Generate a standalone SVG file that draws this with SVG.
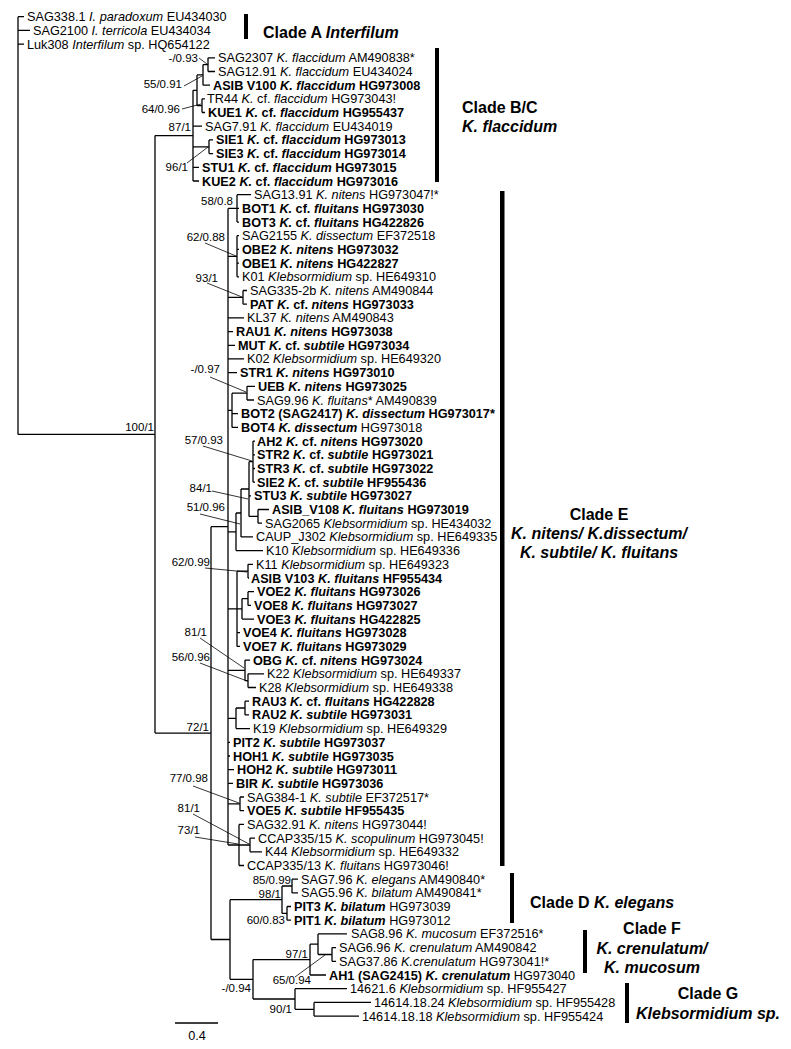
<svg xmlns="http://www.w3.org/2000/svg" width="791" height="1049" viewBox="0 0 791 1049">
<style>
text { font-family: "Liberation Sans", Arial, Helvetica, sans-serif; fill: #000; }
.t { font-size: 12.7px; }
.b { font-weight: bold; }
.i { font-style: italic; }
.sv { font-size: 11.5px; text-anchor: end; }
.cl { font-size: 16px; font-weight: bold; }
.mid { text-anchor: middle; }
.br { stroke: #000; stroke-width: 1.3; fill: none; }
.pt { stroke: #000; stroke-width: 0.8; fill: none; }
.bar { fill: #000; }
</style>
<rect width="791" height="1049" fill="#fff"/>
<g id="connectors">
<path class="br" d="M18 16.7V434.4M18 16.7H24M18 30.4H30M18 44.1H24M18 434.4H155
M155 135.6V733.1M155 135.6H193M155 733.1H211
M193 90.3V181M193 90.3H197M197 74.9V105.7M197 74.9H203M203 64.6V85.2M203 64.6H208M208 57.8V71.5M208 57.8H215M208 71.5H215M203 85.2H210M197 105.7H202M202 98.8V112.5M202 98.8H205M202 112.5H205M193 126.2H202M193 146.8H209M209 139.9V153.6M209 139.9H213M209 153.6H213M193 167.3H199M193 181H199
M211 526.7V939.5M211 526.7H228M211 939.5H230
M228 208.4V845
M228 208.4H237M237 194.7V222.1M237 194.7H251M237 208.4H239M237 222.1H239
M228 256.3H237M237 235.7V276.8M237 235.7H239M237 249.4H239M237 263.1H239M237 276.8H239
M228 297.4H243M243 290.5V304.2M243 290.5H247M243 304.2H247
M228 317.9H244M228 331.6H233M228 345.3H235M228 358.9H244M228 372.6H237
M228 410.3H232M232 393.2V427.4M232 393.2H247M247 386.3V400M247 386.3H255M247 400H254M232 413.7H238M232 427.4H238
M228 531.8H236M236 513V550.6M236 550.6H263M236 513H241M241 489V536.9M241 536.9H253M241 489H249M249 461.7V516.4M249 461.7H253M253 441.1V482.2M253 441.1H255M253 454.8H255M253 468.5H255M253 482.2H255M249 495.8H251M249 516.4H258M258 509.5V523.2M258 509.5H269M258 523.2H262
M228 608.8H237M237 571.2V646.4M237 571.2H248M248 564.3V578M248 564.3H253M248 578H249M237 608.8H242M242 598.6V619.1M242 598.6H248M248 591.7V605.4M248 591.7H254M248 605.4H251M242 619.1H254M237 632.7H240M237 646.4H240
M228 670.4H245M245 660.1V680.7M245 660.1H250M245 680.7H248M248 673.8V687.5M248 673.8H264M248 687.5H256
M228 718.3H236M236 708V728.6M236 708H245M245 701.2V714.9M245 701.2H249M245 714.9H249M236 728.6H250
M228 742.3H230M228 756H230M228 769.6H234M228 783.3H233
M228 803.9H240M240 797V810.7M240 797H244M240 810.7H244
M228 845H239M239 824.4V865.5M239 824.4H244M239 865.5H244M239 845H250M250 838.1V851.8M250 838.1H255M250 851.8H262
M230 899.7V979.3M230 899.7H282M282 886V913.4M282 886H292M292 879.2V892.9M292 879.2H298M292 892.9H298M282 913.4H287M287 906.5V920.2M287 906.5H291M287 920.2H291
M230 979.3H253M253 959.6V999M253 959.6H310M310 944.2V975M310 944.2H318M318 933.9V954.5M318 933.9H347M318 954.5H332M332 947.6V961.3M332 947.6H336M332 961.3H336M310 975H326
M253 999H295M295 988.7V1009.3M295 988.7H347M295 1009.3H314M314 1002.4V1016.1M314 1002.4H371M314 1016.1H359"/>
<path class="pt" d="M199 58L207 64M184 86L202 76M182 109L201 104M187 163L208 147M205 243L236 256M207 283L242 297M210 377L246 392M203 446L252 461M212 491L248 499M200 514L240 524M205 568L247 572M200 638L244 668M200 663L247 681M193 786L239 803M193 814L249 844M195 837L238 844M295 977L325 955"/>
<path class="br" d="M175 1023H218"/>
</g>
<g id="support">
<text class="sv" x="198" y="62">-/0.93</text>
<text class="sv" x="182" y="88">55/0.91</text>
<text class="sv" x="180" y="113">64/0.96</text>
<text class="sv" x="191" y="131">87/1</text>
<text class="sv" x="188" y="171">96/1</text>
<text class="sv" x="233" y="205">58/0.8</text>
<text class="sv" x="225" y="241">62/0.88</text>
<text class="sv" x="218" y="282">93/1</text>
<text class="sv" x="220" y="373">-/0.97</text>
<text class="sv" x="154" y="431">100/1</text>
<text class="sv" x="223" y="444">57/0.93</text>
<text class="sv" x="212" y="492">84/1</text>
<text class="sv" x="225" y="511">51/0.96</text>
<text class="sv" x="210" y="566">62/0.99</text>
<text class="sv" x="207" y="636">81/1</text>
<text class="sv" x="210" y="661">56/0.96</text>
<text class="sv" x="209" y="731">72/1</text>
<text class="sv" x="208" y="782">77/0.98</text>
<text class="sv" x="200" y="812">81/1</text>
<text class="sv" x="200" y="834">73/1</text>
<text class="sv" x="291" y="884">85/0.99</text>
<text class="sv" x="281" y="898">98/1</text>
<text class="sv" x="285" y="924">60/0.83</text>
<text class="sv" x="308" y="958">97/1</text>
<text class="sv" x="311" y="984">65/0.94</text>
<text class="sv" x="251" y="992">-/0.94</text>
<text class="sv" x="292" y="1013">90/1</text>
<text class="t mid" x="197" y="1040">0.4</text>
</g>
<g id="n1"><text class="t" x="27" y="21.2">SAG338.1 <tspan class="i">I. paradoxum</tspan> EU434030</text></g>
<g id="n2"><text class="t" x="33" y="34.9">SAG2100 <tspan class="i">I. terricola</tspan> EU434034</text></g>
<g id="n3"><text class="t" x="27" y="48.6">Luk308 <tspan class="i">Interfilum</tspan> sp. HQ654122</text></g>
<g id="n4"><text class="t" x="218" y="62.3">SAG2307 <tspan class="i">K. flaccidum</tspan> AM490838*</text></g>
<g id="n5"><text class="t" x="218" y="76">SAG12.91 <tspan class="i">K. flaccidum</tspan> EU434024</text></g>
<g id="n6"><text class="t b" x="213" y="89.7">ASIB V100 <tspan class="i">K. flaccidum</tspan> HG973008</text></g>
<g id="n7"><text class="t" x="207" y="103.3">TR44 <tspan class="i">K.</tspan> cf. <tspan class="i">flaccidum</tspan> HG973043!</text></g>
<g id="n8"><text class="t b" x="208" y="117">KUE1 <tspan class="i">K.</tspan> cf. <tspan class="i">flaccidum</tspan> HG955437</text></g>
<g id="n9"><text class="t" x="205" y="130.7">SAG7.91 <tspan class="i">K. flaccidum</tspan> EU434019</text></g>
<g id="n10"><text class="t b" x="216" y="144.4">SIE1 <tspan class="i">K.</tspan> cf. <tspan class="i">flaccidum</tspan> HG973013</text></g>
<g id="n11"><text class="t b" x="216" y="158.1">SIE3 <tspan class="i">K.</tspan> cf. <tspan class="i">flaccidum</tspan> HG973014</text></g>
<g id="n12"><text class="t b" x="202" y="171.8">STU1 <tspan class="i">K.</tspan> cf. <tspan class="i">flaccidum</tspan> HG973015</text></g>
<g id="n13"><text class="t b" x="202" y="185.5">KUE2 <tspan class="i">K.</tspan> cf. <tspan class="i">flaccidum</tspan> HG973016</text></g>
<g id="n14"><text class="t" x="254" y="199.2">SAG13.91 <tspan class="i">K. nitens</tspan> HG973047!*</text></g>
<g id="n15"><text class="t b" x="242" y="212.9">BOT1 <tspan class="i">K.</tspan> cf. <tspan class="i">fluitans</tspan> HG973030</text></g>
<g id="n16"><text class="t b" x="242" y="226.6">BOT3 <tspan class="i">K.</tspan> cf. <tspan class="i">fluitans</tspan> HG422826</text></g>
<g id="n17"><text class="t" x="242" y="240.2">SAG2155 <tspan class="i">K. dissectum</tspan> EF372518</text></g>
<g id="n18"><text class="t b" x="242" y="253.9">OBE2 <tspan class="i">K. nitens</tspan> HG973032</text></g>
<g id="n19"><text class="t b" x="242" y="267.6">OBE1 <tspan class="i">K. nitens</tspan> HG422827</text></g>
<g id="n20"><text class="t" x="242" y="281.3">K01 <tspan class="i">Klebsormidium</tspan> sp. HE649310</text></g>
<g id="n21"><text class="t" x="250" y="295">SAG335-2b <tspan class="i">K. nitens</tspan> AM490844</text></g>
<g id="n22"><text class="t b" x="250" y="308.7">PAT <tspan class="i">K.</tspan> cf. <tspan class="i">nitens</tspan> HG973033</text></g>
<g id="n23"><text class="t" x="247" y="322.4">KL37 <tspan class="i">K. nitens</tspan> AM490843</text></g>
<g id="n24"><text class="t b" x="236" y="336.1">RAU1 <tspan class="i">K. nitens</tspan> HG973038</text></g>
<g id="n25"><text class="t b" x="238" y="349.8">MUT <tspan class="i">K.</tspan> cf. <tspan class="i">subtile</tspan> HG973034</text></g>
<g id="n26"><text class="t" x="247" y="363.4">K02 <tspan class="i">Klebsormidium</tspan> sp. HE649320</text></g>
<g id="n27"><text class="t b" x="240" y="377.1">STR1 <tspan class="i">K. nitens</tspan> HG973010</text></g>
<g id="n28"><text class="t b" x="258" y="390.8">UEB <tspan class="i">K. nitens</tspan> HG973025</text></g>
<g id="n29"><text class="t" x="257" y="404.5">SAG9.96 <tspan class="i">K. fluitans</tspan>* AM490839</text></g>
<g id="n30"><text class="t b" x="241" y="418.2">BOT2 (SAG2417) <tspan class="i">K. dissectum</tspan> HG973017*</text></g>
<g id="n31"><text class="t" x="241" y="431.9"><tspan class="b">BOT4 <tspan class="i">K. dissectum</tspan></tspan> HG973018</text></g>
<g id="n32"><text class="t b" x="257" y="445.6">AH2 <tspan class="i">K.</tspan> cf. <tspan class="i">nitens</tspan> HG973020</text></g>
<g id="n33"><text class="t b" x="257" y="459.3">STR2 <tspan class="i">K.</tspan> cf. <tspan class="i">subtile</tspan> HG973021</text></g>
<g id="n34"><text class="t b" x="257" y="473">STR3 <tspan class="i">K.</tspan> cf. <tspan class="i">subtile</tspan> HG973022</text></g>
<g id="n35"><text class="t b" x="257" y="486.7">SIE2 <tspan class="i">K.</tspan> cf. <tspan class="i">subtile</tspan> HF955436</text></g>
<g id="n36"><text class="t b" x="254" y="500.3">STU3 <tspan class="i">K. subtile</tspan> HG973027</text></g>
<g id="n37"><text class="t b" x="272" y="514">ASIB_V108 <tspan class="i">K. fluitans</tspan> HG973019</text></g>
<g id="n38"><text class="t" x="265" y="527.7">SAG2065 <tspan class="i">Klebsormidium</tspan> sp. HE434032</text></g>
<g id="n39"><text class="t" x="256" y="541.4">CAUP_J302 <tspan class="i">Klebsormidium</tspan> sp. HE649335</text></g>
<g id="n40"><text class="t" x="266" y="555.1">K10 <tspan class="i">Klebsormidium</tspan> sp. HE649336</text></g>
<g id="n41"><text class="t" x="256" y="568.8">K11 <tspan class="i">Klebsormidium</tspan> sp. HE649323</text></g>
<g id="n42"><text class="t b" x="251" y="582.5">ASIB V103 <tspan class="i">K. fluitans</tspan> HF955434</text></g>
<g id="n43"><text class="t b" x="257" y="596.2">VOE2 <tspan class="i">K. fluitans</tspan> HG973026</text></g>
<g id="n44"><text class="t b" x="254" y="609.9">VOE8 <tspan class="i">K. fluitans</tspan> HG973027</text></g>
<g id="n45"><text class="t b" x="257" y="623.6">VOE3 <tspan class="i">K. fluitans</tspan> HG422825</text></g>
<g id="n46"><text class="t b" x="243" y="637.2">VOE4 <tspan class="i">K. fluitans</tspan> HG973028</text></g>
<g id="n47"><text class="t b" x="243" y="650.9">VOE7 <tspan class="i">K. fluitans</tspan> HG973029</text></g>
<g id="n48"><text class="t b" x="253" y="664.6">OBG <tspan class="i">K.</tspan> cf. <tspan class="i">nitens</tspan> HG973024</text></g>
<g id="n49"><text class="t" x="267" y="678.3">K22 <tspan class="i">Klebsormidium</tspan> sp. HE649337</text></g>
<g id="n50"><text class="t" x="259" y="692">K28 <tspan class="i">Klebsormidium</tspan> sp. HE649338</text></g>
<g id="n51"><text class="t b" x="252" y="705.7">RAU3 <tspan class="i">K.</tspan> cf. <tspan class="i">fluitans</tspan> HG422828</text></g>
<g id="n52"><text class="t b" x="252" y="719.4">RAU2 <tspan class="i">K. subtile</tspan> HG973031</text></g>
<g id="n53"><text class="t" x="253" y="733.1">K19 <tspan class="i">Klebsormidium</tspan> sp. HE649329</text></g>
<g id="n54"><text class="t b" x="233" y="746.8">PIT2 <tspan class="i">K. subtile</tspan> HG973037</text></g>
<g id="n55"><text class="t b" x="233" y="760.5">HOH1 <tspan class="i">K. subtile</tspan> HG973035</text></g>
<g id="n56"><text class="t b" x="237" y="774.1">HOH2 <tspan class="i">K. subtile</tspan> HG973011</text></g>
<g id="n57"><text class="t b" x="236" y="787.8">BIR <tspan class="i">K. subtile</tspan> HG973036</text></g>
<g id="n58"><text class="t" x="247" y="801.5">SAG384-1 <tspan class="i">K. subtile</tspan> EF372517*</text></g>
<g id="n59"><text class="t b" x="247" y="815.2">VOE5 <tspan class="i">K. subtile</tspan> HF955435</text></g>
<g id="n60"><text class="t" x="247" y="828.9">SAG32.91 <tspan class="i">K. nitens</tspan> HG973044!</text></g>
<g id="n61"><text class="t" x="258" y="842.6">CCAP335/15 <tspan class="i">K. scopulinum</tspan> HG973045!</text></g>
<g id="n62"><text class="t" x="265" y="856.3">K44 <tspan class="i">Klebsormidium</tspan> sp. HE649332</text></g>
<g id="n63"><text class="t" x="247" y="870">CCAP335/13 <tspan class="i">K. fluitans</tspan> HG973046!</text></g>
<g id="n64"><text class="t" x="301" y="883.7">SAG7.96 <tspan class="i">K. elegans</tspan> AM490840*</text></g>
<g id="n65"><text class="t" x="301" y="897.4">SAG5.96 <tspan class="i">K. bilatum</tspan> AM490841*</text></g>
<g id="n66"><text class="t" x="294" y="911"><tspan class="b">PIT3 <tspan class="i">K. bilatum</tspan></tspan> HG973039</text></g>
<g id="n67"><text class="t" x="294" y="924.7"><tspan class="b">PIT1 <tspan class="i">K. bilatum</tspan></tspan> HG973012</text></g>
<g id="n68"><text class="t" x="351" y="938.4">SAG8.96 <tspan class="i">K. mucosum</tspan> EF372516*</text></g>
<g id="n69"><text class="t" x="339" y="952.1">SAG6.96 <tspan class="i">K. crenulatum</tspan> AM490842</text></g>
<g id="n70"><text class="t" x="339" y="965.8">SAG37.86 <tspan class="i">K.crenulatum</tspan> HG973041!*</text></g>
<g id="n71"><text class="t" x="329" y="979.5"><tspan class="b">AH1 (SAG2415) <tspan class="i">K. crenulatum</tspan></tspan> HG973040</text></g>
<g id="n72"><text class="t" x="350" y="993.2">14621.6 <tspan class="i">Klebsormidium</tspan> sp. HF955427</text></g>
<g id="n73"><text class="t" x="374" y="1006.9">14614.18.24 <tspan class="i">Klebsormidium</tspan> sp. HF955428</text></g>
<g id="n74"><text class="t" x="362" y="1020.6">14614.18.18 <tspan class="i">Klebsormidium</tspan> sp. HF955424</text></g>
<g id="cladeA"><rect class="bar" x="244" y="14" width="4" height="25"/><text class="cl" x="263" y="37.7">Clade A <tspan class="i">Interfilum</tspan></text></g>
<g id="cladeBC"><rect class="bar" x="435" y="48" width="4" height="134"/><text class="cl" x="462" y="112.7">Clade B/C</text><text class="cl i" x="462" y="131.7">K. flaccidum</text></g>
<g id="cladeE"><rect class="bar" x="500" y="191" width="4.5" height="675"/><text class="cl mid" x="599" y="519.7">Clade E</text><text class="cl i mid" x="599" y="538.7">K. nitens/ K.dissectum/</text><text class="cl i mid" x="599" y="557.7">K. subtile/ K. fluitans</text></g>
<g id="cladeD"><rect class="bar" x="510" y="873" width="4" height="50"/><text class="cl" x="530" y="907.7">Clade D <tspan class="i">K. elegans</tspan></text></g>
<g id="cladeF"><rect class="bar" x="583" y="930" width="4" height="43"/><text class="cl mid" x="652" y="933.7">Clade F</text><text class="cl i mid" x="652" y="953.7">K. crenulatum/</text><text class="cl i mid" x="652" y="972.7">K. mucosum</text></g>
<g id="cladeG"><rect class="bar" x="625" y="983" width="4" height="40"/><text class="cl mid" x="708" y="998.7">Clade G</text><text class="cl i mid" x="708" y="1018.7">Klebsormidium sp.</text></g>
</svg>
